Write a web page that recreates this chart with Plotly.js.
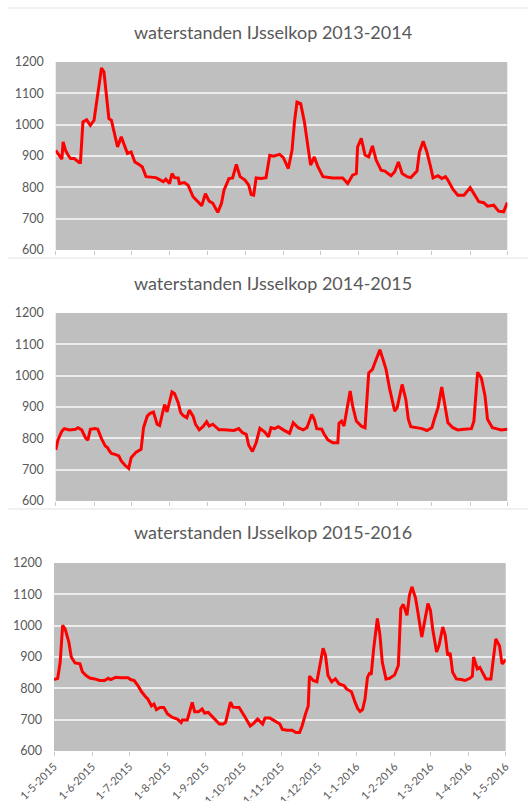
<!DOCTYPE html>
<html>
<head>
<meta charset="utf-8">
<script src="https://cdn.plot.ly/plotly-3.0.1.min.js"></script>
<style>html,body{margin:0;padding:0;background:#fff;}#chart{width:528px;height:801px;}</style>
</head>
<body>
<div id="chart"></div>
<script>
// Titles
const titles = ['waterstanden IJsselkop 2013-2014', 'waterstanden IJsselkop 2014-2015', 'waterstanden IJsselkop 2015-2016'];

// Panel 1: 2013-2014
const dates1 = ['2013-05-01','2013-05-06','2013-05-07','2013-05-09','2013-05-11','2013-05-13','2013-05-16','2013-05-20','2013-05-21','2013-05-23','2013-05-26','2013-05-29','2013-06-01','2013-06-07','2013-06-09','2013-06-13','2013-06-15','2013-06-20','2013-06-23','2013-06-28','2013-07-01','2013-07-04','2013-07-08','2013-07-10','2013-07-13','2013-07-21','2013-07-27','2013-07-29','2013-08-01','2013-08-03','2013-08-05','2013-08-08','2013-08-09','2013-08-13','2013-08-16','2013-08-20','2013-08-24','2013-08-27','2013-08-30','2013-09-02','2013-09-05','2013-09-09','2013-09-12','2013-09-14','2013-09-18','2013-09-21','2013-09-24','2013-09-27','2013-10-01','2013-10-04','2013-10-06','2013-10-08','2013-10-10','2013-10-14','2013-10-18','2013-10-21','2013-10-24','2013-10-29','2013-11-01','2013-11-02','2013-11-05','2013-11-08','2013-11-10','2013-11-12','2013-11-15','2013-11-18','2013-11-21','2013-11-23','2013-11-26','2013-11-29','2013-12-03','2013-12-11','2013-12-19','2013-12-23','2013-12-27','2013-12-30','2013-12-31','2014-01-03','2014-01-06','2014-01-09','2014-01-12','2014-01-15','2014-01-19','2014-01-22','2014-01-27','2014-01-30','2014-02-02','2014-02-05','2014-02-09','2014-02-12','2014-02-17','2014-02-19','2014-02-22','2014-02-25','2014-02-28','2014-03-02','2014-03-06','2014-03-09','2014-03-12','2014-03-14','2014-03-18','2014-03-22','2014-03-27','2014-04-01','2014-04-04','2014-04-08','2014-04-12','2014-04-15','2014-04-20','2014-04-24','2014-04-28','2014-05-01'];
const vals1 = [918,890,945,918,903,892,892,879,879,1009,1016,998,1014,1181,1168,1019,1014,929,961,908,913,881,871,865,834,831,818,826,812,844,831,830,812,815,807,770,754,741,780,756,749,720,749,791,828,830,873,834,823,807,777,775,830,828,831,902,899,905,895,887,860,918,1009,1072,1067,1009,918,871,897,865,834,830,830,812,839,844,929,956,903,897,932,887,855,852,837,850,881,844,834,831,852,913,947,913,865,830,837,828,834,823,794,775,775,799,780,754,751,740,743,724,722,751];

// Panel 2: 2014-2015
const dates2 = ['2014-05-01','2014-05-03','2014-05-06','2014-05-08','2014-05-12','2014-05-17','2014-05-19','2014-05-22','2014-05-25','2014-05-27','2014-05-29','2014-06-02','2014-06-04','2014-06-07','2014-06-10','2014-06-12','2014-06-13','2014-06-15','2014-06-18','2014-06-21','2014-06-23','2014-06-26','2014-06-29','2014-07-01','2014-07-05','2014-07-09','2014-07-11','2014-07-14','2014-07-16','2014-07-19','2014-07-20','2014-07-22','2014-07-24','2014-07-27','2014-07-28','2014-07-30','2014-08-01','2014-08-03','2014-08-05','2014-08-08','2014-08-10','2014-08-12','2014-08-15','2014-08-17','2014-08-20','2014-08-22','2014-08-25','2014-08-28','2014-08-31','2014-09-02','2014-09-05','2014-09-08','2014-09-10','2014-09-14','2014-09-18','2014-09-22','2014-09-26','2014-09-29','2014-10-02','2014-10-04','2014-10-07','2014-10-10','2014-10-13','2014-10-17','2014-10-20','2014-10-22','2014-10-25','2014-10-28','2014-11-01','2014-11-06','2014-11-09','2014-11-13','2014-11-17','2014-11-20','2014-11-24','2014-11-26','2014-11-28','2014-12-02','2014-12-04','2014-12-07','2014-12-11','2014-12-15','2014-12-16','2014-12-18','2014-12-20','2014-12-23','2014-12-25','2014-12-27','2014-12-30','2015-01-03','2015-01-06','2015-01-09','2015-01-12','2015-01-14','2015-01-18','2015-01-21','2015-01-23','2015-01-26','2015-01-30','2015-02-01','2015-02-03','2015-02-05','2015-02-08','2015-02-10','2015-02-12','2015-02-16','2015-02-21','2015-02-25','2015-03-01','2015-03-03','2015-03-06','2015-03-09','2015-03-12','2015-03-14','2015-03-18','2015-03-22','2015-03-27','2015-04-02','2015-04-04','2015-04-07','2015-04-10','2015-04-13','2015-04-15','2015-04-19','2015-04-22','2015-04-26','2015-05-01'];
const vals2 = [763,797,823,831,827,829,834,827,802,794,829,831,829,799,776,770,762,752,749,744,728,714,704,738,756,765,834,871,879,884,871,845,841,892,908,884,914,948,943,914,882,873,866,890,871,845,827,837,853,839,845,834,827,827,825,825,831,818,813,778,758,786,832,820,805,834,831,837,827,816,850,834,827,834,876,861,831,829,813,795,786,786,848,855,839,903,951,903,855,839,834,1009,1020,1041,1083,1046,1020,956,887,898,935,972,924,861,837,834,831,825,834,861,898,964,903,850,834,827,829,831,855,1011,993,935,861,834,831,827,829];

// Panel 3: 2015-2016
const dates3 = ['2015-05-01','2015-05-04','2015-05-06','2015-05-08','2015-05-10','2015-05-13','2015-05-15','2015-05-18','2015-05-22','2015-05-24','2015-05-27','2015-05-30','2015-06-03','2015-06-07','2015-06-11','2015-06-14','2015-06-16','2015-06-20','2015-06-24','2015-06-30','2015-07-02','2015-07-05','2015-07-08','2015-07-11','2015-07-14','2015-07-16','2015-07-19','2015-07-21','2015-07-23','2015-07-26','2015-07-29','2015-08-01','2015-08-05','2015-08-09','2015-08-12','2015-08-13','2015-08-17','2015-08-21','2015-08-23','2015-08-26','2015-08-29','2015-08-31','2015-09-03','2015-09-07','2015-09-10','2015-09-12','2015-09-15','2015-09-17','2015-09-19','2015-09-21','2015-09-23','2015-09-28','2015-10-03','2015-10-07','2015-10-10','2015-10-13','2015-10-17','2015-10-19','2015-10-23','2015-10-27','2015-10-31','2015-11-02','2015-11-06','2015-11-10','2015-11-13','2015-11-16','2015-11-18','2015-11-21','2015-11-23','2015-11-24','2015-11-27','2015-11-30','2015-12-02','2015-12-05','2015-12-07','2015-12-09','2015-12-12','2015-12-15','2015-12-18','2015-12-22','2015-12-24','2015-12-28','2015-12-31','2016-01-02','2016-01-04','2016-01-06','2016-01-08','2016-01-10','2016-01-12','2016-01-13','2016-01-15','2016-01-18','2016-01-20','2016-01-22','2016-01-25','2016-01-28','2016-02-01','2016-02-04','2016-02-06','2016-02-08','2016-02-11','2016-02-13','2016-02-15','2016-02-18','2016-02-20','2016-02-23','2016-02-26','2016-02-28','2016-03-01','2016-03-03','2016-03-06','2016-03-08','2016-03-11','2016-03-13','2016-03-15','2016-03-17','2016-03-19','2016-03-22','2016-03-26','2016-03-29','2016-04-02','2016-04-04','2016-04-05','2016-04-08','2016-04-10','2016-04-12','2016-04-15','2016-04-19','2016-04-21','2016-04-23','2016-04-26','2016-04-28','2016-04-30','2016-05-01'];
const vals3 = [828,832,883,1001,990,948,900,881,878,853,841,833,830,825,825,832,828,835,834,834,828,825,809,789,774,766,744,750,732,739,739,718,707,702,691,699,699,755,725,725,734,721,723,707,696,686,686,691,723,756,740,739,707,680,689,702,686,705,705,696,686,669,666,666,659,659,680,721,744,839,825,821,862,928,905,841,821,830,814,809,798,789,755,736,726,732,766,835,851,843,926,1023,974,883,830,832,843,873,1055,1068,1033,1097,1124,1087,1039,964,1028,1071,1049,985,916,937,996,969,905,913,851,830,828,825,832,839,900,862,867,851,830,830,903,958,935,878,886,892];

const xRanges = [['2013-05-01','2014-05-01'],['2014-05-01','2015-05-01'],['2015-05-01','2016-05-01']];
const yTicks = [600, 700, 800, 900, 1000, 1100, 1200];

const H = 801, W = 528;
const plotTops = [62, 313, 563];
const plotH = 188;
const xDoms = [[55.7/W, 507.3/W],[55.7/W, 507.3/W],[54/W, 505.7/W]];
const titleY = [32, 283, 532];
const sepY = [8, 258, 509];

const grey = '#595959';
const font = 'Lato, "Open Sans", sans-serif';

const allDates = [dates1, dates2, dates3];
const allVals = [vals1, vals2, vals3];

const data = allDates.map((d, i) => ({
  x: d, y: allVals[i], type: 'scatter', mode: 'lines',
  line: {color: '#ff0000', width: 3},
  xaxis: i === 0 ? 'x' : 'x' + (i + 1),
  yaxis: i === 0 ? 'y' : 'y' + (i + 1),
  hoverinfo: 'x+y'
}));

const layout = {
  width: W, height: H,
  margin: {l: 0, r: 0, t: 0, b: 0},
  paper_bgcolor: '#ffffff',
  plot_bgcolor: '#bfbfbf',
  showlegend: false,
  font: {family: font, color: grey},
  annotations: titles.map((t, i) => ({
    text: t, xref: 'paper', yref: 'paper', x: 273 / W, y: 1 - titleY[i] / H,
    xanchor: 'center', yanchor: 'middle', showarrow: false,
    font: {family: font, size: 18, color: grey}
  })),
  shapes: sepY.map(y => ({
    type: 'line', xref: 'paper', yref: 'paper', x0: 8 / W, x1: 1, y0: 1 - y / H, y1: 1 - y / H,
    line: {color: '#e3e3e3', width: 1}
  }))
};

for (let i = 0; i < 3; i++) {
  const sfx = i === 0 ? '' : String(i + 1);
  const top = plotTops[i];
  layout['xaxis' + sfx] = {
    domain: xDoms[i], anchor: 'y' + sfx, type: 'date', range: xRanges[i],
    dtick: 'M1', tick0: xRanges[i][0], ticks: 'outside', ticklen: 4, tickwidth: 1,
    tickcolor: '#c8c8c8', showgrid: false, zeroline: false, showline: false,
    showticklabels: i === 2, tickformat: '%-d-%-m-%Y', tickangle: -45,
    ticklabelstandoff: 0,
    tickfont: {family: font, size: 11, color: grey}
  };
  layout['yaxis' + sfx] = {
    domain: [1 - (top + plotH) / H, 1 - top / H], anchor: 'x' + sfx,
    range: [600, 1200], tickvals: yTicks, ticktext: yTicks.map(String),
    showgrid: true, gridcolor: '#ececec', gridwidth: 2, zeroline: false, showline: false,
    ticks: '', ticklabelstandoff: 11,
    tickfont: {family: font, size: 12.5, color: grey}
  };
}

Plotly.newPlot('chart', data, layout, {displayModeBar: false, staticPlot: true});
</script>
</body>
</html>
